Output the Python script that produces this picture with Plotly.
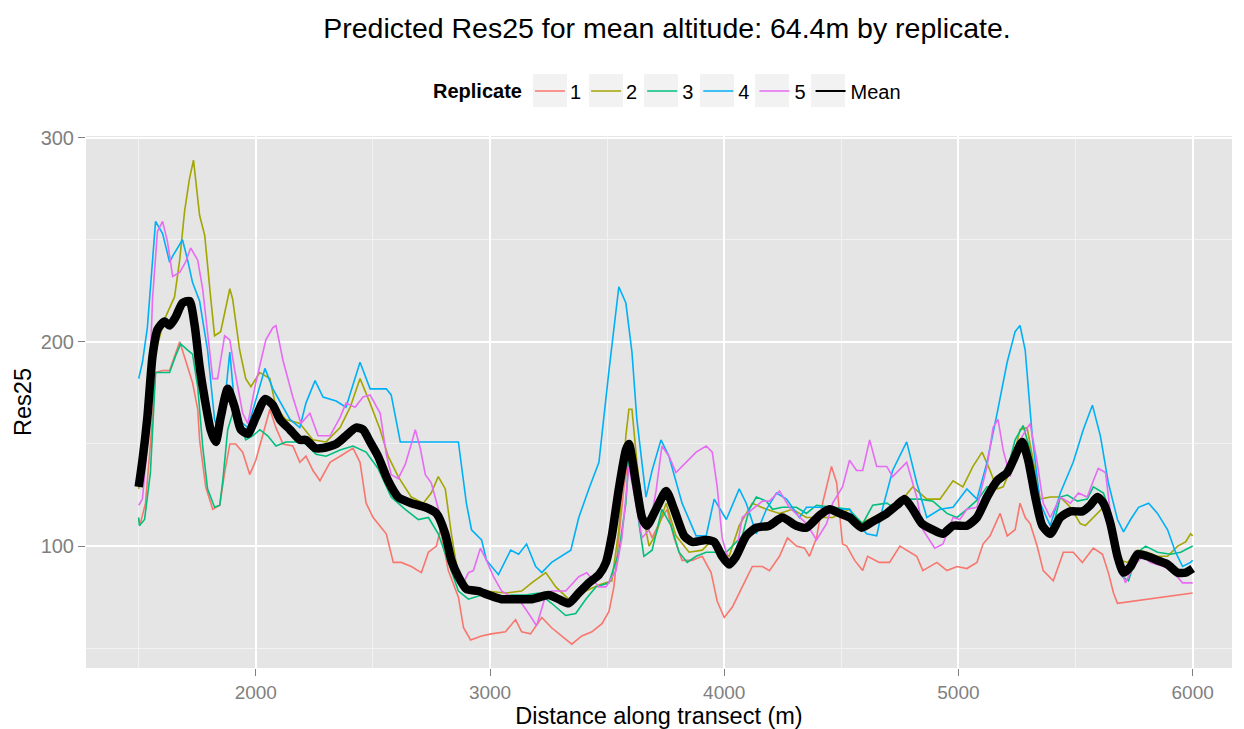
import plotly.graph_objects as go

# ---- data ----
rep1_x = [1500,1507,1529,1550,1572,1602,1632,1653,1675,1700,1730,1752,1760,1786,1816,1846,1867,1889,1914,1944,1974,2000,2030,2060,2086,2116,2158,2188,2214,2244,2274,2317,2360,2415,2445,2471,2501,2531,2557,2587,2621,2664,2707,2737,2771,2788,2822,2865,2887,2917,2964,3006,3066,3109,3135,3173,3221,3263,3306,3349,3392,3435,3478,3508,3529,3550,3572,3593,3623,3649,3692,3730,3756,3786,3820,3863,3906,3944,3970,4000,4034,4077,4120,4163,4193,4236,4270,4308,4343,4364,4394,4420,4458,4480,4505,4523,4557,4591,4612,4662,4706,4750,4779,4822,4848,4908,4951,4994,5036,5079,5105,5135,5178,5208,5242,5263,5285,5306,5336,5362,5405,5448,5490,5529,5576,5615,5640,5662,5679,5979,6000]
rep1_y = [113,111,121,150,185,186,186,193,200,191,180,167,152,129,118,120,136,150,150,146,135,142,154,167,158,150,149,141,144,137,132,141,144,148,141,121,114,110,106,92,92,90,87,97,100,108,88,75,60,54,56,57,58,64,58,57,65,60,56,52,56,58,62,68,80,104,129,144,131,116,104,113,118,104,93,93,95,87,73,65,70,80,90,90,88,95,104,100,99,95,104,121,139,131,101,100,93,88,95,92,92,100,98,95,88,92,88,90,89,92,101,105,116,105,108,121,114,111,100,88,83,97,97,92,99,96,87,77,72,77,77]

rep2_x = [1500,1537,1572,1610,1653,1675,1696,1717,1734,1760,1782,1794,1807,1824,1850,1889,1901,1931,1957,1979,2017,2060,2086,2128,2188,2244,2300,2360,2403,2445,2488,2531,2565,2608,2664,2715,2749,2779,2809,2835,2865,2908,2981,3066,3135,3178,3238,3281,3336,3409,3465,3520,3550,3580,3593,3606,3627,3657,3679,3709,3752,3794,3850,3906,3949,3991,4021,4064,4120,4180,4236,4291,4351,4407,4463,4535,4578,4634,4706,4762,4805,4865,4921,4977,5019,5062,5101,5135,5165,5191,5221,5263,5293,5319,5349,5392,5435,5478,5520,5542,5576,5619,5640,5670,5692,5722,5765,5807,5850,5893,5936,5970,5991,6000]
rep2_y = [128,150,195,211,222,240,264,280,289,262,252,236,222,203,205,226,221,196,182,178,185,182,168,162,160,152,151,158,168,182,170,157,144,134,124,121,126,134,128,106,85,78,78,77,78,82,87,80,74,78,81,83,108,154,167,167,141,113,100,106,121,105,97,98,103,98,95,110,121,118,116,118,114,114,114,118,111,114,118,123,129,123,123,132,129,139,146,137,128,129,137,157,158,142,123,124,124,119,111,110,114,119,118,106,93,92,98,97,95,95,100,102,106,105]

rep3_x = [1500,1503,1525,1550,1572,1602,1632,1657,1679,1709,1730,1752,1773,1794,1824,1846,1859,1880,1901,1931,1957,1987,2017,2051,2086,2128,2171,2214,2257,2300,2360,2415,2471,2522,2578,2638,2694,2737,2779,2822,2865,2908,2964,3036,3092,3152,3208,3263,3323,3366,3409,3452,3508,3550,3580,3593,3615,3636,3657,3692,3734,3773,3807,3842,3880,3923,3966,4009,4077,4107,4137,4180,4206,4248,4308,4351,4394,4463,4535,4548,4591,4634,4694,4737,4779,4835,4891,4951,4994,5036,5084,5122,5165,5208,5242,5276,5306,5341,5371,5392,5435,5465,5508,5550,5576,5619,5649,5670,5700,5726,5765,5799,5850,5906,5949,6000]
rep3_y = [114,110,113,136,185,185,185,193,199,196,194,178,149,128,119,120,132,157,165,162,152,154,157,154,149,151,151,150,145,144,147,149,146,138,124,118,113,114,106,92,78,74,76,75,76,76,77,72,66,67,74,80,82,97,121,144,137,111,95,98,118,110,97,92,95,97,97,97,105,118,124,122,118,119,119,116,120,119,118,116,111,120,121,118,123,123,122,116,114,118,123,129,129,137,152,159,147,124,108,104,124,125,122,123,129,126,116,100,85,83,97,100,97,96,97,100]

rep4_x = [1500,1516,1537,1550,1572,1602,1632,1645,1666,1687,1709,1730,1760,1794,1824,1846,1867,1889,1914,1966,2039,2073,2146,2188,2214,2253,2287,2343,2385,2445,2488,2557,2578,2600,2617,2865,2899,2921,2964,2985,3036,3088,3122,3156,3195,3221,3263,3345,3379,3422,3465,3508,3550,3580,3606,3627,3666,3692,3730,3764,3820,3880,3923,3957,4009,4064,4094,4137,4180,4223,4266,4321,4351,4407,4493,4535,4578,4608,4651,4675,4719,4779,4822,4865,4921,4977,5036,5079,5122,5165,5208,5242,5263,5285,5315,5349,5392,5435,5490,5533,5572,5606,5640,5679,5705,5735,5769,5812,5850,5893,5927,5957,5991,6000]
rep4_y = [182,190,207,226,259,253,239,242,246,250,240,229,220,196,162,155,170,195,163,158,187,177,162,158,170,181,173,171,168,190,177,177,174,162,151,151,121,108,103,93,86,98,96,101,90,87,92,98,114,128,141,186,227,219,195,162,124,137,152,144,121,105,105,123,113,128,121,106,118,126,123,114,119,119,118,118,110,106,105,118,137,151,131,114,118,119,128,123,141,165,190,205,208,196,154,121,110,126,141,157,169,154,131,113,107,113,119,121,116,108,97,90,92,93]

rep5_x = [1500,1516,1537,1559,1580,1602,1623,1645,1675,1700,1722,1752,1773,1794,1816,1837,1867,1889,1910,1944,1966,2000,2043,2073,2086,2116,2158,2193,2231,2266,2317,2360,2385,2424,2458,2488,2531,2557,2578,2608,2638,2664,2681,2702,2724,2749,2779,2809,2844,2865,2887,2908,2929,2959,2985,3015,3049,3079,3109,3135,3165,3199,3238,3263,3323,3379,3413,3465,3495,3538,3563,3593,3623,3649,3679,3709,3734,3764,3794,3837,3880,3923,3949,3970,3991,4021,4051,4077,4120,4163,4193,4236,4278,4321,4351,4394,4437,4463,4505,4535,4565,4591,4621,4651,4694,4719,4779,4822,4848,4899,4934,4977,5006,5036,5079,5122,5148,5169,5191,5221,5263,5306,5336,5362,5392,5435,5478,5512,5550,5576,5597,5628,5649,5679,5713,5747,5786,5820,5876,5919,5957,6000]
rep5_y = [120,123,150,221,254,259,249,232,234,239,246,240,226,203,182,182,203,201,186,165,160,180,201,207,208,191,173,160,165,154,154,163,170,168,173,174,165,145,135,133,140,150,157,148,135,131,118,105,91,85,82,87,88,99,93,85,78,76,74,72,67,61,76,78,78,85,87,80,80,88,104,139,121,104,108,127,149,144,136,141,146,149,146,129,104,92,97,114,118,122,122,127,119,114,111,103,111,121,129,142,137,137,152,139,139,134,141,124,108,99,101,114,113,118,119,139,158,162,147,134,152,160,141,121,114,124,121,126,124,132,138,136,116,93,82,90,95,92,90,87,82,82]

mean_x = [1500,1516,1537,1559,1580,1610,1632,1657,1687,1717,1739,1760,1782,1807,1829,1850,1880,1910,1936,1966,2000,2039,2073,2103,2146,2188,2214,2253,2287,2343,2385,2428,2458,2488,2522,2565,2608,2664,2724,2771,2809,2835,2865,2899,2951,2994,3049,3109,3178,3251,3293,3336,3379,3422,3465,3495,3520,3550,3580,3593,3623,3649,3670,3713,3752,3786,3829,3863,3923,3957,3991,4021,4051,4094,4137,4193,4248,4308,4351,4407,4450,4493,4535,4587,4634,4694,4737,4771,4805,4844,4891,4934,4977,5036,5079,5122,5165,5208,5234,5272,5298,5328,5358,5392,5435,5478,5529,5563,5593,5619,5649,5679,5705,5735,5765,5807,5850,5893,5936,5970,6000]
mean_y = [129,142,163,193,206,210,208,212,219,220,208,188,172,157,151,163,177,168,157,155,163,172,169,162,157,152,152,148,148,150,154,158,157,151,144,132,124,121,119,116,106,93,85,79,78,76,74,74,74,76,74,72,77,82,86,92,105,128,147,150,131,114,110,119,127,118,105,102,103,102,95,91,95,105,109,110,114,110,109,115,118,116,114,109,112,116,120,123,118,111,108,106,110,110,114,124,132,136,142,151,142,124,110,106,114,117,117,120,124,121,111,95,87,90,96,95,93,91,87,87,89]

rep_names = ["1", "2", "3", "4", "5"]
rep_colors = ["#F8766D", "#A3A500", "#00BF7D", "#00B0F6", "#E76BF3"]
x_ticks = [2000, 3000, 4000, 5000, 6000]
y_ticks = [100, 200, 300]

FONT = "Liberation Sans, Arial, Helvetica, sans-serif"

# layout geometry (pixels)
W, H = 1244, 729
ML, MR, MT, MB = 86, 12, 136, 61
PW, PH = W - ML - MR, H - MT - MB
# legend key backgrounds (left pixel of each key box), box size
key_left_px = [533, 589, 644, 700, 755, 811]
KEY_W, KEY_TOP, KEY_BOT = 34, 74, 107

def px2paper_x(px):
    return (px - ML) / PW

def py2paper_y(py):
    return (H - MB - py) / PH

fig = go.Figure()
series = [(rep1_x, rep1_y), (rep2_x, rep2_y), (rep3_x, rep3_y), (rep4_x, rep4_y), (rep5_x, rep5_y)]
for (xs, ys), name, col in zip(series, rep_names, rep_colors):
    fig.add_trace(go.Scatter(x=xs, y=ys, mode="lines", name=name,
                             line=dict(color=col, width=1.6)))

fig.add_trace(go.Scatter(x=mean_x, y=mean_y, mode="lines", name="Mean",
                         legendgroup="mean", showlegend=False,
                         line=dict(color="black", width=8.5, shape="spline", smoothing=0.6)))
fig.add_trace(go.Scatter(x=[None], y=[None], mode="lines", name="Mean",
                         legendgroup="mean", showlegend=True,
                         line=dict(color="black", width=2)))

shapes = []
for kl in key_left_px:
    shapes.append(dict(type="rect", xref="paper", yref="paper",
                       x0=px2paper_x(kl), x1=px2paper_x(kl + KEY_W),
                       y0=py2paper_y(KEY_BOT), y1=py2paper_y(KEY_TOP),
                       fillcolor="#F2F2F2", line=dict(width=0), layer="above"))

fig.update_layout(
    width=W, height=H,
    margin=dict(l=ML, r=MR, t=MT, b=MB, autoexpand=False),
    paper_bgcolor="white",
    plot_bgcolor="#E5E5E5",
    font=dict(family=FONT, color="black"),
    title=dict(text="Predicted Res25 for mean altitude: 64.4m by replicate.",
               x=px2paper_x(667), xref="paper", xanchor="center",
               y=1 - 28 / H, yref="container", yanchor="middle",
               font=dict(size=28.5, color="black", family=FONT)),
    legend=dict(orientation="h", x=px2paper_x(431), xanchor="left",
                y=py2paper_y(91), yanchor="middle",
                bgcolor="rgba(0,0,0,0)", font=dict(size=20, family=FONT),
                title=dict(text="<b>Replicate</b>", side="left", font=dict(size=20, family=FONT)),
                itemwidth=30, tracegroupgap=0),
    showlegend=True,
    shapes=shapes,
)

fig.update_xaxes(
    automargin=False,
    range=[1275, 6168], tickvals=x_ticks, ticktext=[str(v) for v in x_ticks],
    showgrid=True, gridcolor="white", gridwidth=1.8, zeroline=False,
    minor=dict(dtick=500, tick0=1500, showgrid=True, gridcolor="#F2F2F2", gridwidth=0.8),
    ticks="outside", ticklen=7, tickcolor="#7F7F7F", tickwidth=1.1,
    tickfont=dict(size=19, color="#7F7F7F", family=FONT),
    title=dict(text="Distance along transect (m)", font=dict(size=23.5, color="black", family=FONT), standoff=2),
    showline=False,
)
fig.update_yaxes(
    automargin=False,
    range=[40.3, 300.8], tickvals=y_ticks, ticktext=[str(v) for v in y_ticks],
    showgrid=True, gridcolor="white", gridwidth=1.8, zeroline=False,
    minor=dict(dtick=50, tick0=0, showgrid=True, gridcolor="#F2F2F2", gridwidth=0.8),
    ticks="outside", ticklen=7, tickcolor="#7F7F7F", tickwidth=1.1,
    tickfont=dict(size=20, color="#7F7F7F", family=FONT),
    title=dict(text="Res25", font=dict(size=23.5, color="black", family=FONT), standoff=2),
    showline=False,
)

fig.write_html("out.html")
